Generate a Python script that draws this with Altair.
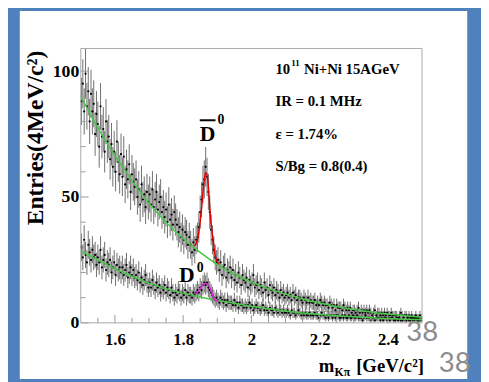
import altair as alt
import numpy as np
import pandas as pd

# ---------------- data ----------------
X_MIN, X_MAX = 1.5, 2.5
Y_MAX = 109
BIN_W = 0.004

# upper histogram (anti-D0 selection), 4 MeV bins from 1.5 to 2.5 GeV
upper_counts = [
    88, 95, 84, 99, 86, 92, 80, 91, 84, 87,
    75, 83, 79, 70, 86, 74, 77, 68, 80, 72,
    74, 65, 71, 62, 68, 60, 72, 64, 59, 67,
    58, 66, 55, 61, 57, 63, 52, 59, 56, 54,
    57, 50, 53, 47, 55, 49, 51, 46, 52, 48,
    51, 47, 53, 46, 49, 52, 45, 48, 50, 44,
    46, 42, 45, 40, 47, 41, 43, 39, 44, 41,
    39, 36, 38, 34, 37, 33, 36, 35, 31, 34,
    31, 28, 32, 29, 33, 34, 38, 44, 49, 55,
    57, 62, 58, 52, 44, 37, 33, 29, 26, 24,
    25, 21, 24, 19, 22, 23, 18, 21, 20, 22,
    18, 21, 17, 19, 16, 20, 18, 15, 19, 17,
    16, 18, 14, 17, 15, 16, 19, 14, 15, 16,
    13, 15, 14, 12, 16, 13, 14, 11, 15, 13,
    12, 14, 11, 13, 12, 10, 13, 11, 12, 10,
    11, 12, 10, 11, 9, 12, 10, 11, 9, 10,
    10, 9, 8, 10, 9, 8, 10, 8, 9, 8,
    8, 9, 7, 8, 7, 9, 8, 7, 8, 7,
    7, 6, 8, 7, 6, 7, 5, 7, 6, 6,
    6, 5, 7, 6, 5, 6, 5, 6, 4, 5,
    5, 4, 5, 6, 4, 5, 4, 5, 4, 5,
    4, 5, 4, 3, 4, 5, 3, 4, 4, 3,
    4, 3, 4, 3, 4, 3, 3, 4, 3, 3,
    3, 3, 2, 3, 4, 3, 2, 3, 3, 2,
    3, 2, 3, 2, 2, 3, 2, 2, 3, 2,
]

# lower histogram (D0 selection)
lower_counts = [
    30, 26, 33, 27, 24, 31, 28, 25, 29, 26,
    27, 23, 26, 24, 29, 22, 25, 27, 21, 24,
    23, 25, 20, 22, 24, 19, 23, 21, 22, 20,
    22, 19, 21, 23, 18, 20, 22, 19, 21, 18,
    19, 17, 20, 16, 18, 15, 17, 19, 16, 14,
    16, 14, 17, 15, 13, 16, 14, 15, 12, 14,
    13, 15, 12, 14, 13, 11, 14, 12, 10, 12,
    11, 13, 12, 10, 12, 11, 13, 10, 12, 11,
    11, 10, 12, 11, 12, 13, 12, 14, 13, 15,
    16, 15, 16, 14, 13, 12, 11, 10, 9, 10,
    9, 8, 10, 9, 8, 9, 7, 9, 8, 8,
    8, 7, 9, 7, 8, 6, 8, 7, 7, 6,
    7, 6, 7, 8, 6, 7, 5, 6, 7, 6,
    6, 5, 6, 7, 5, 6, 5, 4, 6, 5,
    5, 4, 6, 5, 4, 5, 5, 4, 5, 4,
    4, 5, 4, 3, 5, 4, 4, 3, 4, 5,
    4, 3, 4, 3, 4, 3, 3, 4, 3, 3,
    3, 4, 3, 3, 2, 3, 4, 3, 3, 2,
    3, 2, 3, 3, 2, 3, 2, 3, 3, 2,
    2, 3, 2, 3, 2, 2, 3, 2, 2, 3,
    2, 2, 3, 2, 2, 2, 1, 2, 3, 2,
    2, 2, 1, 2, 2, 1, 2, 2, 2, 1,
    2, 1, 2, 2, 1, 2, 1, 2, 2, 1,
    1, 2, 1, 2, 1, 1, 2, 1, 1, 2,
    1, 1, 2, 1, 1, 2, 1, 1, 1, 1,
]

# background fit curves (green)
bkg_x = [1.50, 1.55, 1.60, 1.65, 1.70, 1.75, 1.80, 1.85, 1.90, 1.95, 2.00,
         2.05, 2.10, 2.15, 2.20, 2.25, 2.30, 2.35, 2.40, 2.45, 2.50]
bkg_upper = [90, 77.5, 66.5, 56.5, 47.5, 40, 33.5, 28, 23.2, 19.3, 16.2,
             13.6, 11.4, 9.5, 7.9, 6.5, 5.3, 4.3, 3.5, 2.8, 2.2]
bkg_lower = [28.5, 25, 21.5, 18.5, 15.8, 13.5, 11.8, 10.3, 9, 7.8, 6.6,
             5.6, 4.7, 3.9, 3.3, 2.8, 2.4, 2.0, 1.7, 1.4, 1.2]

# signal + background fits
dbar_peak_x = [1.833, 1.842, 1.847, 1.855, 1.861, 1.866, 1.871, 1.876, 1.880,
               1.885, 1.890, 1.894, 1.904]
dbar_peak_y = [30.5, 33, 37, 47, 55.8, 59.7, 58, 50, 42, 36, 30.5, 26.5, 23.4]
d_peak_x = [1.837, 1.847, 1.857, 1.866, 1.876, 1.885, 1.894, 1.904]
d_peak_y = [11.7, 13, 15, 15.6, 14.7, 11.7, 9.1, 8.7]

# ticks / labels
x_major = [1.6, 1.8, 2.0, 2.2, 2.4]
x_minor = [1.55, 1.65, 1.7, 1.75, 1.85, 1.9, 1.95, 2.05, 2.1, 2.15, 2.25, 2.3, 2.35, 2.45]
y_major = [0, 50, 100]
y_minor = [10, 20, 30, 40, 60, 70, 80, 90]

stats_lines = ["Ni+Ni 15AGeV", "IR = 0.1 MHz", "\u03b5 = 1.74%", "S/Bg = 0.8(0.4)"]
y_title = "Entries(4MeV/c\u00b2)"
page_no = "38"

# ---------------- layout ----------------
W, H = 347, 279
SERIF = "Liberation Serif"
BLUE = "#4f81bd"
GREEN = "#46c846"

bins = np.round(X_MIN + BIN_W / 2 + BIN_W * np.arange(len(upper_counts)), 4)
hist = pd.concat([
    pd.DataFrame({"x": bins, "y": upper_counts, "s": "Dbar"}),
    pd.DataFrame({"x": bins, "y": lower_counts, "s": "D"}),
])
bkg = pd.concat([
    pd.DataFrame({"x": bkg_x, "y": bkg_upper, "s": "up"}),
    pd.DataFrame({"x": bkg_x, "y": bkg_lower, "s": "low"}),
])
dbar = pd.DataFrame({"x": dbar_peak_x, "y": dbar_peak_y})
dpk = pd.DataFrame({"x": d_peak_x, "y": d_peak_y})
one = pd.DataFrame({"a": [0]})

xs = alt.Scale(domain=[X_MIN, X_MAX], nice=False, zero=False)
ys = alt.Scale(domain=[0, Y_MAX], nice=False)
xaxis = alt.Axis(values=x_major, format="~f", domain=False, ticks=False, grid=False,
                 labelFont=SERIF, labelFontWeight="bold", labelFontSize=17,
                 labelColor="black", labelPadding=9, zindex=1)
yaxis = alt.Axis(values=y_major, domain=False, ticks=False, grid=False,
                 labelFont=SERIF, labelFontWeight="bold", labelFontSize=18,
                 labelColor="black", labelPadding=2, zindex=1)


def X(f):
    return alt.X(f, type="quantitative", scale=xs, axis=xaxis, title="")


def Y(f):
    return alt.Y(f, type="quantitative", scale=ys, axis=yaxis, title="")


def txt(text, x, y, size, align="left", font=SERIF, weight="bold", color="black", angle=0):
    return alt.Chart(one).mark_text(
        text=text, align=align, baseline="alphabetic", font=font, fontSize=size,
        fontWeight=weight, color=color, angle=angle
    ).encode(x=alt.value(x), y=alt.value(y))


panel = alt.Chart(one).mark_rect(color="white").encode(
    x=alt.value(-62), x2=alt.value(393), y=alt.value(-38), y2=alt.value(336))

errbars = alt.Chart(hist).transform_calculate(
    lo="datum.y - sqrt(datum.y)", hi="datum.y + sqrt(datum.y)"
).mark_rule(color="#6e6e6e", strokeWidth=1, clip=True).encode(
    x=X("x"), y=Y("lo"), y2="hi:Q", detail="s:N")

points = alt.Chart(hist).mark_circle(color="black", size=5, opacity=1).encode(
    x=X("x"), y=Y("y"), detail="s:N")

green = alt.Chart(bkg).mark_line(color=GREEN, strokeWidth=1.5, interpolate="monotone").encode(
    x=X("x"), y=Y("y"), detail="s:N")
red = alt.Chart(dbar).mark_line(color="#e00000", strokeWidth=1.5, interpolate="monotone").encode(
    x=X("x"), y=Y("y"))
mag = alt.Chart(dpk).mark_line(color="#e020e0", strokeWidth=1.5, interpolate="monotone").encode(
    x=X("x"), y=Y("y"))

xt_major = alt.Chart(pd.DataFrame({"x": x_major})).mark_rule(color="#999999").encode(
    x=X("x"), y=alt.value(H), y2=alt.value(H - 8))
xt_minor = alt.Chart(pd.DataFrame({"x": x_minor})).mark_rule(color="#999999").encode(
    x=X("x"), y=alt.value(H), y2=alt.value(H - 5))
yt_major = alt.Chart(pd.DataFrame({"y": y_major})).mark_rule(color="#999999").encode(
    y=Y("y"), x=alt.value(0), x2=alt.value(8))
yt_minor = alt.Chart(pd.DataFrame({"y": y_minor})).mark_rule(color="#999999").encode(
    y=Y("y"), x=alt.value(0), x2=alt.value(5))

frame = alt.Chart(one).mark_rect(filled=False, stroke="#a8a8a8", strokeWidth=1).encode(
    x=alt.value(0), x2=alt.value(W), y=alt.value(0), y2=alt.value(H))

texts = [
    txt("10", 198, 26, 15),
    txt("11", 214, 18, 9),
    txt(stats_lines[0], 227, 26, 15),
    txt(stats_lines[1], 198, 59, 15),
    txt(stats_lines[2], 198, 92, 15),
    txt(stats_lines[3], 198, 125, 15),
    # D-bar 0 label
    txt("D", 121, 94, 22),
    txt("0", 139, 77, 14),
    # D0 label
    txt("D", 100, 237, 22),
    txt("0", 118, 227, 14),
    # axis titles
    txt(y_title, -38, 91, 24, align="center", angle=270),
    txt("m", 242, 329, 19),
    txt("K\u03c0", 258, 333, 12),
    txt("[GeV/c\u00b2]", 349, 329, 19, align="right"),
    # slide page numbers
    txt(page_no, 331, 297, 28, font="Lato", weight="normal", color="#8c8c8c"),
    txt(page_no, 364, 329, 28, font="Lato", weight="normal", color="#8c8c8c"),
]

overline = alt.Chart(one).mark_rule(color="black", strokeWidth=2).encode(
    x=alt.value(121), x2=alt.value(137), y=alt.value(73))

chart = alt.layer(
    panel, errbars, points, green, red, mag,
    xt_major, xt_minor, yt_major, yt_minor, frame, overline, *texts
).properties(
    width=W, height=H, background=BLUE,
    padding={"left": 74, "top": 38, "right": 60, "bottom": 57},
    autosize=alt.AutoSizeParams(type="none"),
).configure_view(strokeWidth=0)

chart.save("out.html", embed_options={"renderer": "svg", "actions": False})
